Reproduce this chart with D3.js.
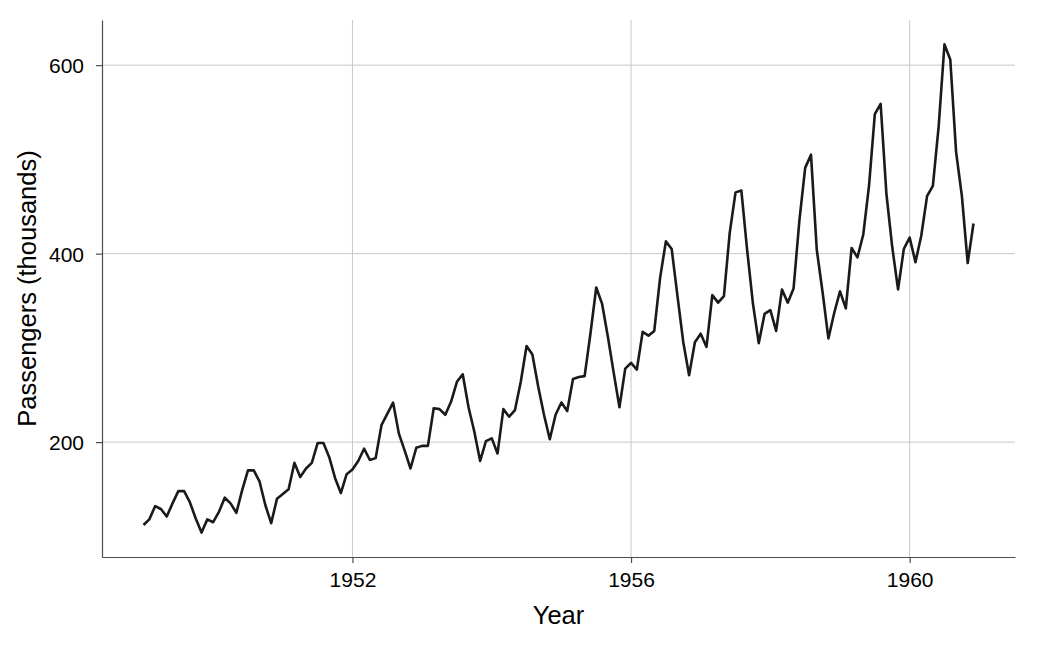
<!DOCTYPE html>
<html>
<head>
<meta charset="utf-8">
<script src="https://cdn.jsdelivr.net/npm/d3@7"></script>
<style>
  body { margin: 0; background: #fff; }
  text { font-family: "Liberation Sans", Arial, sans-serif; fill: #000; }
</style>
</head>
<body>
<svg width="1050" height="645"></svg>
<script>
// monthly airline passengers (thousands), Jan 1949 - Dec 1960
var startYear = 1949;
var passengers = [
  112, 118, 132, 129, 121, 135, 148, 148, 136, 119, 104, 118,
  115, 126, 141, 135, 125, 149, 170, 170, 158, 133, 114, 140,
  145, 150, 178, 163, 172, 178, 199, 199, 184, 162, 146, 166,
  171, 180, 193, 181, 183, 218, 230, 242, 209, 191, 172, 194,
  196, 196, 236, 235, 229, 243, 264, 272, 237, 211, 180, 201,
  204, 188, 235, 227, 234, 264, 302, 293, 259, 229, 203, 229,
  242, 233, 267, 269, 270, 315, 364, 347, 312, 274, 237, 278,
  284, 277, 317, 313, 318, 374, 413, 405, 355, 306, 271, 306,
  315, 301, 356, 348, 355, 422, 465, 467, 404, 347, 305, 336,
  340, 318, 362, 348, 363, 435, 491, 505, 404, 359, 310, 337,
  360, 342, 406, 396, 420, 472, 548, 559, 463, 407, 362, 405,
  417, 391, 419, 461, 472, 535, 622, 606, 508, 461, 390, 432
];
var xTicks = [1952, 1956, 1960];
var yTicks = [200, 400, 600];

var svg = d3.select("svg"),
    pLeft = 102, pRight = 1015, pTop = 20, pBottom = 557;

var data = passengers.map(function(v, i) {
    return { t: startYear + i / 12, v: v };
});

// ggplot-style 5% expansion
var tExt = d3.extent(data, function(d) { return d.t; }),
    vExt = d3.extent(data, function(d) { return d.v; }),
    tPad = (tExt[1] - tExt[0]) * 0.05,
    vPad = (vExt[1] - vExt[0]) * 0.05;

var x = d3.scaleLinear().domain([tExt[0] - tPad, tExt[1] + tPad]).range([pLeft, pRight]);
var y = d3.scaleLinear().domain([vExt[0] - vPad, vExt[1] + vPad]).range([pBottom, pTop]);

// grid
var grid = svg.append("g").attr("class", "grid");
grid.selectAll(".gx")
    .data(xTicks)
    .enter().append("line")
        .attr("x1", function(d) { return x(d); })
        .attr("x2", function(d) { return x(d); })
        .attr("y1", pTop)
        .attr("y2", pBottom)
        .attr("stroke", "#c8c8c8")
        .attr("stroke-width", 1);
grid.selectAll(".gy")
    .data(yTicks)
    .enter().append("line")
        .attr("x1", pLeft)
        .attr("x2", pRight)
        .attr("y1", function(d) { return y(d); })
        .attr("y2", function(d) { return y(d); })
        .attr("stroke", "#c8c8c8")
        .attr("stroke-width", 1);

// axes
var xAxis = svg.append("g")
    .attr("transform", "translate(0," + pBottom + ")")
    .call(d3.axisBottom(x).tickValues(xTicks).tickFormat(d3.format("d")).tickSize(6).tickSizeOuter(0).tickPadding(5));
var yAxis = svg.append("g")
    .attr("transform", "translate(" + pLeft + ",0)")
    .call(d3.axisLeft(y).tickValues(yTicks).tickSize(6).tickSizeOuter(0).tickPadding(12));

[xAxis, yAxis].forEach(function(a) {
    a.select(".domain").attr("stroke", "#4d4d4d").attr("stroke-width", 1.2);
    a.selectAll(".tick line").attr("stroke", "#4d4d4d").attr("stroke-width", 1.2);
    a.selectAll(".tick text")
        .attr("fill", "#000")
        .style("font-size", "21px")
        .style("font-family", "'Liberation Sans', Arial, sans-serif");
});
xAxis.selectAll(".tick text").attr("dy", "0.9em");
yAxis.selectAll(".tick text").attr("dy", "0.36em");

// series
var line = d3.line()
    .x(function(d) { return x(d.t); })
    .y(function(d) { return y(d.v); });

svg.append("path")
    .datum(data)
    .attr("d", line)
    .attr("fill", "none")
    .attr("stroke", "#1a1a1a")
    .attr("stroke-width", 2.6)
    .attr("stroke-linejoin", "round");

// titles
svg.append("text")
    .attr("x", (pLeft + pRight) / 2)
    .attr("y", 624)
    .attr("text-anchor", "middle")
    .style("font-size", "25.5px")
    .text("Year");

svg.append("text")
    .attr("transform", "translate(36," + ((pTop + pBottom) / 2) + ") rotate(-90)")
    .attr("text-anchor", "middle")
    .style("font-size", "25.5px")
    .text("Passengers (thousands)");
</script>
</body>
</html>
